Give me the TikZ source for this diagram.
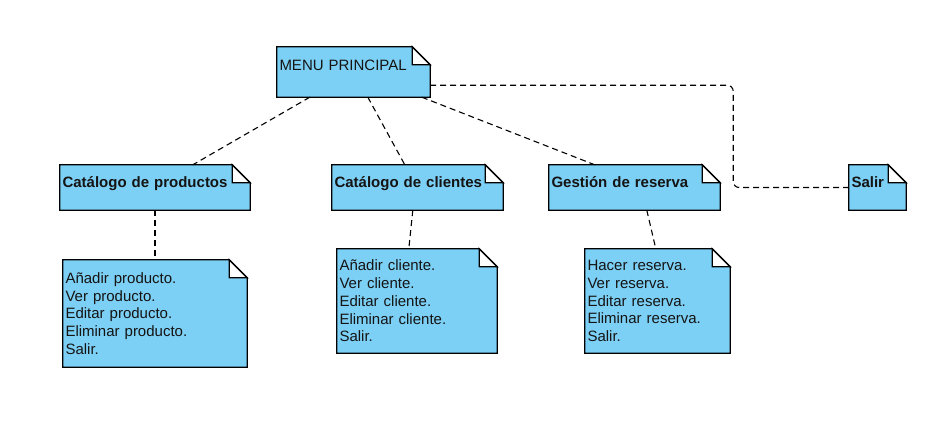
\documentclass[tikz,border=0pt]{standalone}
\usepackage{fontspec}
\setmainfont{Liberation Sans}
\usetikzlibrary{backgrounds}
\definecolor{notefill}{RGB}{125,208,245}
\definecolor{notetext}{RGB}{20,20,20}
\begin{document}
\begin{tikzpicture}[x=1pt,y=-1pt,
  notebox/.style={rectangle, inner xsep=2.5pt, inner ysep=0pt, align=left, text=notetext,
    font=\fontsize{15}{17.7}\selectfont},
  head/.style={notebox, font=\bfseries\fontsize{15}{18}\selectfont, text height=10pt, text depth=10pt, minimum height=45pt},
  conn/.style={draw=black, line width=1.1pt, dash pattern=on 6pt off 4pt},
  shapeline/.style={draw=black, line width=1.3pt, line join=miter}
]
\useasboundingbox (0,0) rectangle (937,442);

% nodes
\node[notebox, text width=148pt, minimum height=50pt, text height=10pt, text depth=14pt] (menu) at (353.5,72) {MENU PRINCIPAL};
\node[head, text width=185pt] (prod) at (155,187.5) {Catálogo de productos};
\node[head, text width=166pt] (cli) at (417.5,187.5) {Catálogo de clientes};
\node[head, text width=166pt] (res) at (634.5,187.5) {Gestión de reserva};
\node[head, text width=52pt] (salir) at (877.5,187.5) {Salir};
\node[notebox, text width=179pt, minimum height=107pt] (prodlist) at (155,313.5)
  {Añadir producto.\\Ver producto.\\Editar producto.\\Eliminar producto.\\Salir.};
\node[notebox, text width=155pt, minimum height=104pt] (clilist) at (417,301)
  {Añadir cliente.\\Ver cliente.\\Editar cliente.\\Eliminar cliente.\\Salir.};
\node[notebox, text width=140pt, minimum height=104pt] (reslist) at (657.5,301)
  {Hacer reserva.\\Ver reserva.\\Editar reserva.\\Eliminar reserva.\\Salir.};

% note shapes behind the text
\begin{pgfonlayer}{background}
\foreach \n in {menu,prod,cli,res,salir,prodlist,clilist,reslist}{
  \path[shapeline, fill=notefill] (\n.south west) -- (\n.north west) -- ([xshift=-18pt]\n.north east)
     -- ([yshift=-18pt]\n.north east) -- (\n.south east) -- cycle;
  \path[shapeline, fill=white] ([xshift=-18pt]\n.north east) |- ([yshift=-18pt]\n.north east) -- cycle;
}
\end{pgfonlayer}

% connectors
\draw[conn] ([xshift=33pt]menu.south west) -- ([xshift=133pt]prod.north west);
\draw[conn] ([xshift=91pt]menu.south west) -- ([xshift=73pt]cli.north west);
\draw[conn] ([xshift=145pt]menu.south west) -- ([xshift=46pt]res.north west);
\draw[conn, rounded corners=6pt] ([yshift=12pt]menu.south east) -- ++(303,0) |- (salir.west);
\draw[conn] (prod.south) -- (prodlist.north);
\draw[conn] ([xshift=81pt]cli.south west) -- ([xshift=72pt]clilist.north west);
\draw[conn] ([xshift=98pt]res.south west) -- ([xshift=71pt]reslist.north west);
\end{tikzpicture}
\end{document}
